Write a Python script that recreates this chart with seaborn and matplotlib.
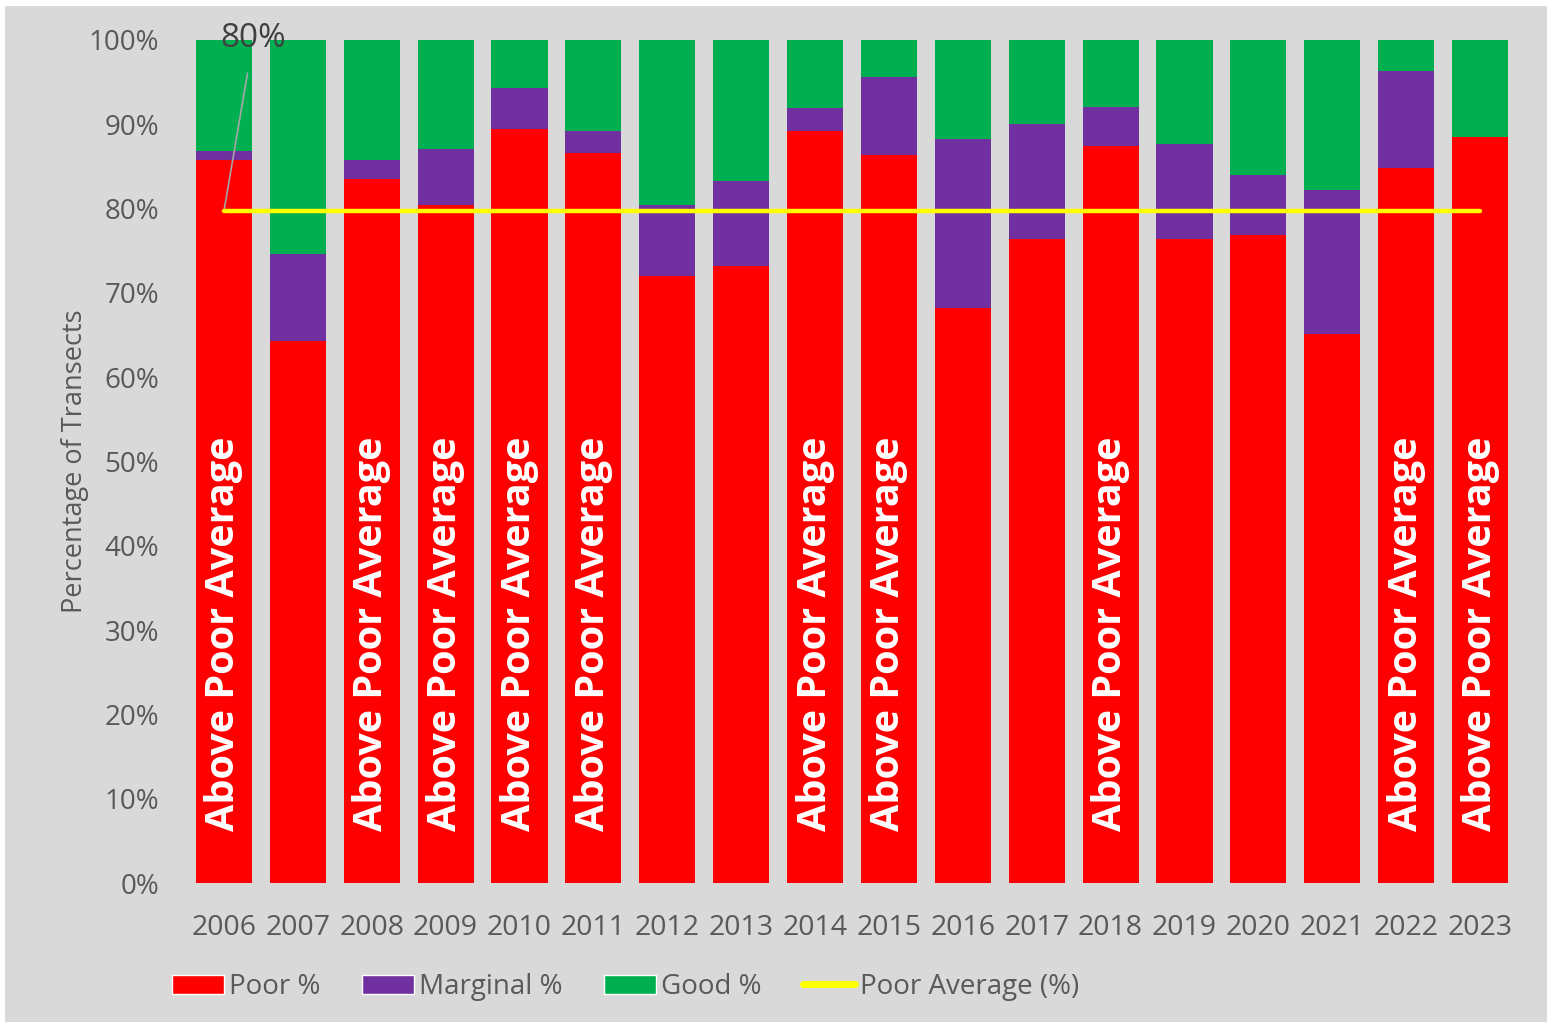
import matplotlib
matplotlib.use("Agg")
import matplotlib.pyplot as plt
import seaborn as sns
import numpy as np
import pandas as pd
from matplotlib.patches import Patch
from matplotlib.lines import Line2D

years = [str(y) for y in range(2006, 2024)]
poor = [85.8, 64.3, 83.5, 80.4, 89.4, 86.6, 72.0, 73.2, 89.2, 86.4, 68.2, 76.4, 87.4, 76.4, 76.9, 65.1, 84.8, 88.5]
marginal = [1.0, 10.3, 2.3, 6.7, 4.9, 2.6, 8.4, 10.1, 2.7, 9.2, 20.1, 13.6, 4.7, 11.3, 7.1, 17.1, 11.5, 0.0]
good = [round(100 - p - m, 1) for p, m in zip(poor, marginal)]
poor_avg = round(float(np.mean(poor)), 1)
avg_label = "80%"
bar_label = "Above Poor Average"

sns.set_theme(style="white")
plt.rcParams['font.family'] = ['Open Sans', 'DejaVu Sans']

BG = "#d9d9d9"
TXT = "#595959"
fig = plt.figure(figsize=(15.54, 10.25), dpi=100, facecolor="white")
fig.patches.append(plt.Rectangle((5/1554, 3/1025), 1542/1554, 1016/1025, transform=fig.transFigure,
                                 facecolor=BG, edgecolor="none", zorder=-10))
ax = fig.add_axes([187/1554, 142/1025, 1330/1554, 843/1025])
ax.set_facecolor(BG)

df = pd.DataFrame({"year": years, "poor": poor, "marginal": marginal, "good": good})
df["pm"] = df["poor"] + df["marginal"]
df["total"] = df["pm"] + df["good"]

sns.barplot(data=df, x="year", y="total", color="#00b050", width=0.76, ax=ax, saturation=1, linewidth=0)
sns.barplot(data=df, x="year", y="pm", color="#7030a0", width=0.76, ax=ax, saturation=1, linewidth=0)
sns.barplot(data=df, x="year", y="poor", color="#ff0000", width=0.76, ax=ax, saturation=1, linewidth=0)

xs = np.arange(len(years))
ax.plot([xs[0], xs[-1]], [poor_avg, poor_avg], color="#ffff00", lw=3.2, solid_capstyle="round", zorder=5)

for i, p in enumerate(poor):
    if p > poor_avg:
        ax.text(i, 6.2, bar_label, rotation=90, ha="center", va="bottom", color="white",
                fontsize=28.5, fontweight="bold", zorder=6)

ax.annotate(avg_label, xy=(0, poor_avg), xytext=(0.4, 100.2), textcoords="data",
            fontsize=24, color="#404040", ha="center", va="center", annotation_clip=False,
            arrowprops=dict(arrowstyle="-", color="#a6a6a6", lw=1.2, shrinkA=11, shrinkB=0))

ax.set_xlim(-0.5, len(years) - 0.5)
ax.set_ylim(0, 100)
ax.set_yticks(np.arange(0, 101, 10))
ax.set_yticklabels([f"{v}%" for v in range(0, 101, 10)])
ax.tick_params(axis="y", labelsize=20, labelcolor=TXT, length=0, pad=20)
ax.tick_params(axis="x", labelsize=20.5, labelcolor=TXT, length=0, pad=22)
ax.set_xlabel("")
ax.set_ylabel("Percentage of Transects", fontsize=19.5, color=TXT, labelpad=0)
for s in ax.spines.values():
    s.set_visible(False)

handles = [Patch(facecolor="#ff0000", label="Poor %"),
           Patch(facecolor="#7030a0", label="Marginal %"),
           Patch(facecolor="#00b050", label="Good %"),
           Line2D([0], [0], color="#ffff00", lw=5, label="Poor Average (%)")]
leg = fig.legend(handles=handles, loc="center left", bbox_to_anchor=(147/1554, 1 - 987/1025), ncol=4,
                 frameon=False, fontsize=20, handlelength=1.87, handleheight=0.65, handletextpad=0.18,
                 columnspacing=1.5)
for t in leg.get_texts():
    t.set_color(TXT)

fig.savefig("out.png", dpi=100, facecolor="white")
